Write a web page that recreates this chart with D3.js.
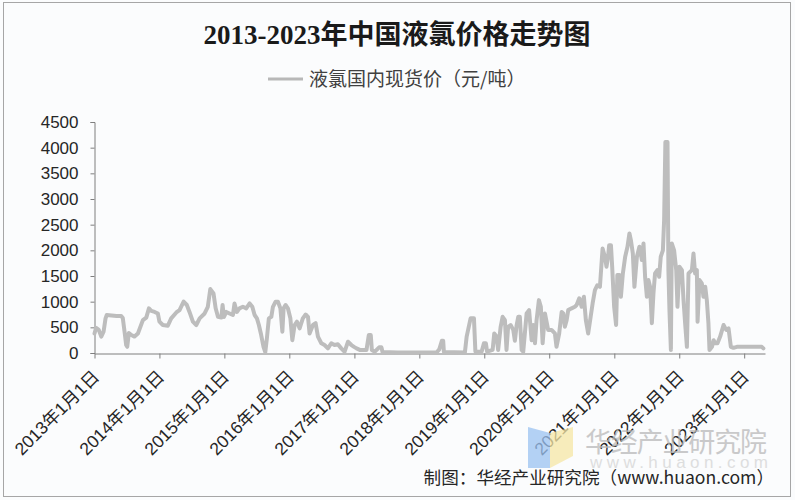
<!DOCTYPE html>
<html>
<head>
<meta charset="utf-8">
<script src="https://cdn.jsdelivr.net/npm/d3@7/dist/d3.min.js"></script>
<style>
  html, body { margin: 0; padding: 0; background: #fbfcfd; }
  svg { display: block; }
</style>
</head>
<body>
<svg id="chart" width="795" height="500"></svg>
<script>
// ---------------- DATA ----------------
const title = "2013-2023年中国液氯价格走势图";
const seriesName = "液氯国内现货价（元/吨）";
const source = "制图：华经产业研究院（www.huaon.com）";

const xTickYears = [2013, 2014, 2015, 2016, 2017, 2018, 2019, 2020, 2021, 2022, 2023];
const yTicks = [0, 500, 1000, 1500, 2000, 2500, 3000, 3500, 4000, 4500];

const dates = [
  "2013-01-01","2013-01-10","2013-01-25","2013-02-08","2013-02-21","2013-03-04","2013-03-11","2013-04-07","2013-05-05","2013-05-31",
  "2013-06-09","2013-06-19","2013-06-28","2013-07-04","2013-07-13","2013-07-27","2013-08-14","2013-09-02","2013-09-30","2013-10-19",
  "2013-11-03","2013-11-16","2013-12-05","2013-12-23",
  "2014-01-01","2014-01-20","2014-02-17","2014-03-08","2014-04-06","2014-04-24","2014-05-17","2014-06-04","2014-06-19","2014-07-08",
  "2014-07-27","2014-08-15","2014-09-12","2014-09-30","2014-10-14","2014-11-01","2014-11-13","2014-11-26","2014-12-15","2014-12-22",
  "2014-12-29",
  "2015-01-12","2015-01-30","2015-02-18","2015-02-27","2015-03-12","2015-03-27","2015-04-15","2015-05-04","2015-05-23","2015-06-07",
  "2015-06-20","2015-07-03","2015-07-14","2015-07-27","2015-08-09","2015-08-19","2015-08-28","2015-09-08","2015-09-22","2015-10-01",
  "2015-10-16","2015-10-29","2015-11-12","2015-11-23","2015-11-30","2015-12-11","2015-12-24",
  "2016-01-07","2016-01-18","2016-01-31","2016-02-13","2016-02-28","2016-03-17","2016-04-02","2016-04-15","2016-04-24","2016-05-13",
  "2016-05-28","2016-06-10","2016-06-29","2016-07-17","2016-08-05","2016-08-24","2016-09-11","2016-09-30","2016-10-19","2016-11-07",
  "2016-11-26","2016-12-15","2016-12-30",
  "2017-01-13","2017-01-31","2017-03-10","2017-03-23","2017-04-03","2017-04-09","2017-04-26","2017-05-20","2017-06-02","2017-06-08",
  "2017-09-01","2017-12-01","2018-04-08","2018-04-23","2018-05-08","2018-05-15","2018-05-19","2018-09-14","2018-09-24","2018-10-16",
  "2018-11-04","2018-11-12","2018-12-17","2018-12-30",
  "2019-01-10","2019-01-17","2019-02-17","2019-02-26","2019-03-11","2019-03-20","2019-04-03","2019-04-14","2019-04-27","2019-05-06",
  "2019-05-15","2019-05-29","2019-06-13","2019-06-22","2019-07-02","2019-07-11","2019-07-20","2019-07-30","2019-08-08","2019-08-27",
  "2019-09-10","2019-09-24","2019-10-03","2019-10-13","2019-10-22","2019-11-04","2019-11-15","2019-11-25","2019-12-08","2019-12-26",
  "2020-01-14","2020-02-02","2020-02-11","2020-02-26","2020-03-11","2020-03-20","2020-03-29","2020-04-08","2020-04-17","2020-05-06",
  "2020-05-24","2020-06-03","2020-06-18","2020-07-01","2020-07-14","2020-07-25","2020-08-07","2020-08-21","2020-09-01","2020-09-14",
  "2020-09-27","2020-10-12","2020-10-27","2020-11-09","2020-11-18","2020-11-27","2020-12-03","2020-12-13","2020-12-20","2020-12-31",
  "2021-01-11","2021-01-18","2021-01-30","2021-02-07","2021-02-18","2021-03-03","2021-03-16","2021-03-27","2021-04-04","2021-04-15",
  "2021-04-24","2021-05-08","2021-05-22","2021-06-05","2021-06-14","2021-06-23","2021-07-03","2021-07-12","2021-07-21","2021-07-31",
  "2021-08-09","2021-08-18","2021-08-31","2021-09-10","2021-09-19","2021-10-01","2021-10-08","2021-10-15","2021-10-27","2021-11-01",
  "2021-11-07","2021-11-15","2021-11-20","2021-12-03","2021-12-15","2021-12-22",
  "2022-01-02","2022-01-16","2022-01-25","2022-02-03","2022-02-13","2022-02-22","2022-03-13","2022-03-22","2022-03-31","2022-04-10",
  "2022-04-14","2022-04-25","2022-05-08","2022-05-17","2022-05-27","2022-06-05","2022-06-14","2022-06-20","2022-07-04","2022-07-13",
  "2022-07-22","2022-08-04","2022-08-19","2022-09-07","2022-09-22","2022-10-05","2022-10-18","2022-11-02","2022-11-21","2023-01-15",
  "2023-04-10","2023-04-19"
];

const prices = [
  380,490,450,320,415,675,740,730,720,720,
  680,415,155,120,390,350,320,380,640,690,
  870,820,800,770,
  610,545,530,675,790,835,1000,935,800,610,
  545,675,770,900,1245,1160,870,705,690,935,
  700,
  800,770,740,965,800,870,900,870,965,900,
  740,675,545,350,120,15,285,675,705,900,
  1000,1000,870,415,870,935,870,
  675,250,545,610,480,675,750,705,380,545,
  580,320,190,155,90,190,155,170,90,25,
  220,155,120,
  90,60,60,350,350,60,25,110,110,20,
  10,10,10,70,240,240,20,10,320,675,
  675,30,25,190,
  190,25,60,380,320,60,510,705,640,60,
  510,545,450,240,545,705,705,60,25,770,
  835,250,545,190,640,1030,900,190,770,450,
  450,380,120,380,800,770,510,640,835,870,
  900,935,1065,900,1095,640,380,705,965,1225,
  1320,1290,2035,1875,1680,1875,2100,2100,1680,900,
  545,1520,1520,1095,1550,1875,2070,2330,2200,1940,
  1290,1875,2070,1810,2135,1485,1095,1420,1290,580,
  1160,1550,1615,1485,1875,2000,2590,4110,4110,1615,
  830,60,2135,2000,1615,900,
  1680,1615,1030,580,120,1550,1615,1940,1550,1615,
  610,1420,1355,1095,1290,1030,580,60,120,250,
  190,190,320,545,450,480,120,100,120,120,
  120,90
];

// ---------------- LAYOUT ----------------
const W = 795, H = 500;
const svg = d3.select("#chart");
const fontSans = "'Liberation Sans', Arial, 'Noto Sans CJK SC', sans-serif";
const fontCJK = "'Noto Sans CJK SC', 'Liberation Sans', sans-serif";

svg.append("rect").attr("x", 0).attr("y", 0).attr("width", W).attr("height", H).attr("fill", "#fbfcfd");
svg.append("rect").attr("x", 3.5).attr("y", 2.5).attr("width", 787).attr("height", 494)
  .attr("fill", "none").attr("stroke", "#a6a6a6").attr("stroke-width", 1);

const parse = d3.timeParse("%Y-%m-%d");
const data = dates.map((d, i) => ({ date: parse(d), value: prices[i] }));

const x = d3.scaleTime()
  .domain([new Date(2013, 0, 1), new Date(2023, 3, 28)])
  .range([94.5, 765]);
const y = d3.scaleLinear().domain([0, 4500]).range([353, 122]);

// Title
svg.append("text")
  .attr("x", 397).attr("y", 44)
  .attr("text-anchor", "middle")
  .attr("font-family", "'Liberation Serif', 'Noto Sans CJK SC', serif")
  .attr("font-weight", "bold")
  .attr("font-size", 27)
  .attr("fill", "#1a1a1a")
  .text(title);

// Legend
svg.append("line").attr("x1", 268).attr("x2", 303).attr("y1", 79).attr("y2", 79)
  .attr("stroke", "#b8b8b8").attr("stroke-width", 3);
svg.append("text").attr("x", 309).attr("y", 86)
  .attr("font-family", fontCJK).attr("font-size", 19).attr("fill", "#404040")
  .text(seriesName);

// Y axis
const yAxis = svg.append("g").attr("transform", "translate(94.5,0)")
  .call(d3.axisLeft(y).tickValues(yTicks).tickSize(4).tickPadding(12).tickFormat(d3.format("d")));
yAxis.select(".domain").attr("stroke", "#7f7f7f");
yAxis.selectAll(".tick line").attr("stroke", "#7f7f7f");
yAxis.selectAll("text").attr("font-family", fontSans).attr("font-size", 17).attr("fill", "#262626");

// X axis
const xTicks = xTickYears.map(yr => new Date(yr, 0, 1));
const xAxis = svg.append("g").attr("transform", "translate(0,353.5)")
  .call(d3.axisBottom(x).tickValues(xTicks).tickSize(5).tickSizeOuter(0)
    .tickFormat(d => d.getFullYear() + "年1月1日"));
xAxis.select(".domain").attr("stroke", "#7f7f7f");
xAxis.selectAll(".tick line").attr("stroke", "#7f7f7f");
xAxis.selectAll("text")
  .attr("font-family", fontSans).attr("font-size", 17.5).attr("fill", "#262626")
  .attr("text-anchor", "end")
  .attr("transform", "translate(1,20) rotate(-45)")
  .attr("dy", "0.35em").attr("y", 0).attr("x", 0);

// Line
const line = d3.line().x(d => x(d.date)).y(d => y(d.value)).curve(d3.curveLinear);
svg.append("path").datum(data)
  .attr("d", line)
  .attr("fill", "none")
  .attr("stroke", "#bdbdbd")
  .attr("stroke-width", 4)
  .attr("stroke-linejoin", "round")
  .attr("stroke-linecap", "round");

// Watermark
const wm = svg.append("g").attr("opacity", 0.75);
wm.append("path").attr("d", "M528,427 L550,433 L550,468 L528,468 Z").attr("fill", "#9cc3f2");
wm.append("path").attr("d", "M550,433 L573,427 L573,456 L550,468 Z").attr("fill", "#f6e7a6");
wm.append("text").attr("x", 585).attr("y", 452)
  .attr("font-family", fontCJK).attr("font-size", 27).attr("fill", "#b9b9b9")
  .attr("textLength", 182)
  .text("华经产业研究院");
wm.append("text").attr("x", 590).attr("y", 468)
  .attr("font-family", fontSans).attr("font-size", 17).attr("fill", "#d4d4d4")
  .attr("textLength", 178)
  .text("www.huaon.com");

// Source
svg.append("text").attr("x", 774).attr("y", 484)
  .attr("text-anchor", "end")
  .attr("font-family", fontCJK).attr("font-size", 17.6).attr("fill", "#262626")
  .text(source);
</script>
</body>
</html>
